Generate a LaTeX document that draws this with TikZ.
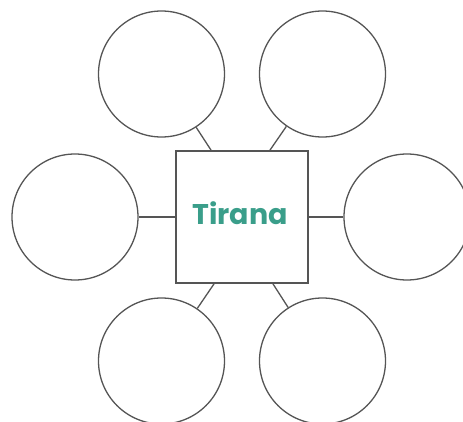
\documentclass[tikz,border=0pt]{standalone}
\usepackage{fontspec}
\newfontfamily\cityfont{Poppins}
\definecolor{WebTeal}{HTML}{3A9E8A}
\definecolor{WebLine}{HTML}{555555}
\begin{document}
\begin{tikzpicture}[x=1pt,y=1pt]
  \tikzstyle{bubble}=[circle,draw=WebLine,line width=1.3pt,minimum size=126pt,inner sep=0pt]
  \tikzstyle{hub}=[draw=WebLine,line width=1.8pt,minimum size=132pt,inner sep=0pt]
  \tikzstyle{spoke}=[draw=WebLine,line width=1.3pt]
  \useasboundingbox (0,0) rectangle (463,421);
  \node[hub] (sq) at (242,204) {};
  \node[font=\cityfont\bfseries\fontsize{28.5}{32}\selectfont,text=WebTeal] (city) at (240,208) {Tirana};
  \node[bubble] (tl) at (161.5,347) {};
  \node[bubble] (tr) at (322.5,347) {};
  \node[bubble] (l) at (75,204) {};
  \node[bubble] (r) at (407,204) {};
  \node[bubble] (bl) at (161.5,60) {};
  \node[bubble] (br) at (322.5,60) {};
  \draw[spoke] (tl)--([xshift=-31pt]sq.north);
  \draw[spoke] (tr)--([xshift=28pt]sq.north);
  \draw[spoke] (l)--(sq);
  \draw[spoke] (r)--(sq);
  \draw[spoke] (bl)--([xshift=-28pt]sq.south);
  \draw[spoke] (br)--([xshift=31pt]sq.south);
\end{tikzpicture}
\end{document}
